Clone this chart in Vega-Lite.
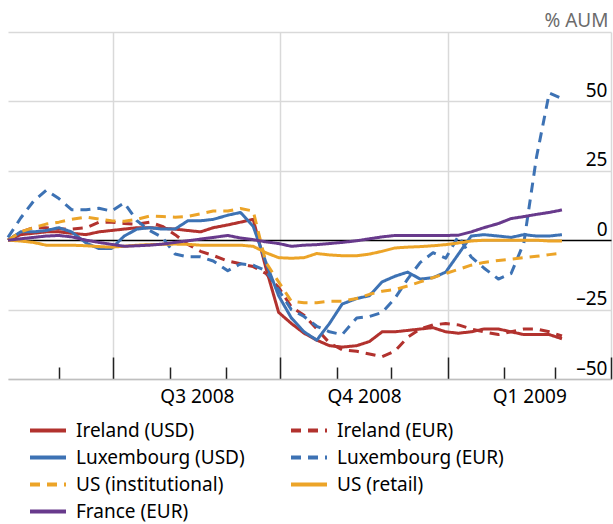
{
  "$schema": "https://vega.github.io/schema/vega-lite/v6.json",
  "width": 603,
  "height": 347,
  "autosize": "none",
  "padding": {"left": 8, "top": 32, "right": 2, "bottom": 145},
  "config": {"view": {"stroke": null}, "font": "Noto Sans"},
  "data": {"values": [
    {"date": "2008-05-04", "Ireland (USD)": 0, "Ireland (EUR)": 0, "Luxembourg (USD)": 0, "Luxembourg (EUR)": 1, "US (institutional)": 0, "US (retail)": 0, "France (EUR)": 0},
    {"date": "2008-05-11", "Ireland (USD)": 2, "Ireland (EUR)": 3, "Luxembourg (USD)": 3, "Luxembourg (EUR)": 8, "US (institutional)": 3, "US (retail)": -0.3, "France (EUR)": 0.5},
    {"date": "2008-05-18", "Ireland (USD)": 2.5, "Ireland (EUR)": 4.5, "Luxembourg (USD)": 3, "Luxembourg (EUR)": 14, "US (institutional)": 4.5, "US (retail)": -0.8, "France (EUR)": 1},
    {"date": "2008-05-25", "Ireland (USD)": 3, "Ireland (EUR)": 4.5, "Luxembourg (USD)": 3.5, "Luxembourg (EUR)": 18, "US (institutional)": 5.8, "US (retail)": -1.8, "France (EUR)": 1.5},
    {"date": "2008-06-01", "Ireland (USD)": 3, "Ireland (EUR)": 4, "Luxembourg (USD)": 4.5, "Luxembourg (EUR)": 15, "US (institutional)": 6.5, "US (retail)": -1.8, "France (EUR)": 1.7},
    {"date": "2008-06-08", "Ireland (USD)": 2.5, "Ireland (EUR)": 4, "Luxembourg (USD)": 3, "Luxembourg (EUR)": 11, "US (institutional)": 7.5, "US (retail)": -1.8, "France (EUR)": 1.2},
    {"date": "2008-06-16", "Ireland (USD)": 2, "Ireland (EUR)": 4.5, "Luxembourg (USD)": -1, "Luxembourg (EUR)": 11, "US (institutional)": 8.3, "US (retail)": -2, "France (EUR)": 0},
    {"date": "2008-06-23", "Ireland (USD)": 3, "Ireland (EUR)": 6.5, "Luxembourg (USD)": -3, "Luxembourg (EUR)": 11.5, "US (institutional)": 7.6, "US (retail)": -2.3, "France (EUR)": -0.8},
    {"date": "2008-06-30", "Ireland (USD)": 3.5, "Ireland (EUR)": 6.5, "Luxembourg (USD)": -3, "Luxembourg (EUR)": 10.5, "US (institutional)": 7, "US (retail)": -2.5, "France (EUR)": -1.5},
    {"date": "2008-07-07", "Ireland (USD)": 4, "Ireland (EUR)": 6, "Luxembourg (USD)": 1.5, "Luxembourg (EUR)": 13.5, "US (institutional)": 6.8, "US (retail)": -2.2, "France (EUR)": -2.2},
    {"date": "2008-07-14", "Ireland (USD)": 4.5, "Ireland (EUR)": 5.8, "Luxembourg (USD)": 4, "Luxembourg (EUR)": 7, "US (institutional)": 7.5, "US (retail)": -1.8, "France (EUR)": -2},
    {"date": "2008-07-21", "Ireland (USD)": 4.5, "Ireland (EUR)": 6.5, "Luxembourg (USD)": 4.5, "Luxembourg (EUR)": 3.5, "US (institutional)": 8.7, "US (retail)": -1.6, "France (EUR)": -1.8},
    {"date": "2008-07-28", "Ireland (USD)": 4.3, "Ireland (EUR)": 5, "Luxembourg (USD)": 4, "Luxembourg (EUR)": 1, "US (institutional)": 8.5, "US (retail)": -1.5, "France (EUR)": -1.4},
    {"date": "2008-08-04", "Ireland (USD)": 4, "Ireland (EUR)": 2, "Luxembourg (USD)": 4, "Luxembourg (EUR)": -5, "US (institutional)": 8.3, "US (retail)": -1.4, "France (EUR)": -0.8},
    {"date": "2008-08-11", "Ireland (USD)": 3.5, "Ireland (EUR)": -1.5, "Luxembourg (USD)": 7, "Luxembourg (EUR)": -6, "US (institutional)": 8.6, "US (retail)": -1.5, "France (EUR)": -0.2},
    {"date": "2008-08-18", "Ireland (USD)": 3, "Ireland (EUR)": -4, "Luxembourg (USD)": 7, "Luxembourg (EUR)": -6, "US (institutional)": 9.5, "US (retail)": -1.8, "France (EUR)": 0.4},
    {"date": "2008-08-25", "Ireland (USD)": 4.5, "Ireland (EUR)": -5.5, "Luxembourg (USD)": 7.5, "Luxembourg (EUR)": -7.5, "US (institutional)": 10.5, "US (retail)": -1.8, "France (EUR)": 1},
    {"date": "2008-09-02", "Ireland (USD)": 5.5, "Ireland (EUR)": -7.5, "Luxembourg (USD)": 9, "Luxembourg (EUR)": -11, "US (institutional)": 10.5, "US (retail)": -1.8, "France (EUR)": 1.7},
    {"date": "2008-09-09", "Ireland (USD)": 6.5, "Ireland (EUR)": -8.5, "Luxembourg (USD)": 10, "Luxembourg (EUR)": -8.5, "US (institutional)": 11.4, "US (retail)": -1.8, "France (EUR)": 0.8},
    {"date": "2008-09-16", "Ireland (USD)": 7.5, "Ireland (EUR)": -9.5, "Luxembourg (USD)": 5, "Luxembourg (EUR)": -9, "US (institutional)": 10.5, "US (retail)": -2.2, "France (EUR)": 0.2},
    {"date": "2008-09-23", "Ireland (USD)": -10, "Ireland (EUR)": -12, "Luxembourg (USD)": -8, "Luxembourg (EUR)": -11, "US (institutional)": -8, "US (retail)": -4.5, "France (EUR)": -0.6},
    {"date": "2008-09-30", "Ireland (USD)": -26, "Ireland (EUR)": -17, "Luxembourg (USD)": -20, "Luxembourg (EUR)": -18, "US (institutional)": -15, "US (retail)": -6.3, "France (EUR)": -1.2},
    {"date": "2008-10-07", "Ireland (USD)": -30, "Ireland (EUR)": -24, "Luxembourg (USD)": -28, "Luxembourg (EUR)": -25, "US (institutional)": -22, "US (retail)": -6.5, "France (EUR)": -2.2},
    {"date": "2008-10-14", "Ireland (USD)": -33.5, "Ireland (EUR)": -27, "Luxembourg (USD)": -33, "Luxembourg (EUR)": -27.5, "US (institutional)": -22.5, "US (retail)": -6.3, "France (EUR)": -1.8},
    {"date": "2008-10-21", "Ireland (USD)": -36, "Ireland (EUR)": -32, "Luxembourg (USD)": -36, "Luxembourg (EUR)": -31, "US (institutional)": -22.5, "US (retail)": -4.8, "France (EUR)": -1.6},
    {"date": "2008-10-28", "Ireland (USD)": -38, "Ireland (EUR)": -37, "Luxembourg (USD)": -30, "Luxembourg (EUR)": -33, "US (institutional)": -22, "US (retail)": -5.3, "France (EUR)": -1.2},
    {"date": "2008-11-04", "Ireland (USD)": -38.5, "Ireland (EUR)": -39.5, "Luxembourg (USD)": -23, "Luxembourg (EUR)": -34, "US (institutional)": -22, "US (retail)": -5.6, "France (EUR)": -0.8},
    {"date": "2008-11-12", "Ireland (USD)": -38, "Ireland (EUR)": -40, "Luxembourg (USD)": -21, "Luxembourg (EUR)": -28, "US (institutional)": -21, "US (retail)": -5.6, "France (EUR)": -0.2},
    {"date": "2008-11-19", "Ireland (USD)": -36.5, "Ireland (EUR)": -41, "Luxembourg (USD)": -20, "Luxembourg (EUR)": -27.5, "US (institutional)": -19.5, "US (retail)": -5, "France (EUR)": 0.5},
    {"date": "2008-11-26", "Ireland (USD)": -33, "Ireland (EUR)": -42, "Luxembourg (USD)": -15, "Luxembourg (EUR)": -26, "US (institutional)": -18.4, "US (retail)": -4, "France (EUR)": 1.2},
    {"date": "2008-12-03", "Ireland (USD)": -33, "Ireland (EUR)": -40, "Luxembourg (USD)": -13, "Luxembourg (EUR)": -21, "US (institutional)": -17.8, "US (retail)": -2.8, "France (EUR)": 1.7},
    {"date": "2008-12-10", "Ireland (USD)": -32.5, "Ireland (EUR)": -35, "Luxembourg (USD)": -11.5, "Luxembourg (EUR)": -14, "US (institutional)": -16.5, "US (retail)": -2.5, "France (EUR)": 1.7},
    {"date": "2008-12-17", "Ireland (USD)": -32, "Ireland (EUR)": -32, "Luxembourg (USD)": -14, "Luxembourg (EUR)": -8, "US (institutional)": -15, "US (retail)": -2.3, "France (EUR)": 1.7},
    {"date": "2008-12-24", "Ireland (USD)": -31.5, "Ireland (EUR)": -30.5, "Luxembourg (USD)": -13.5, "Luxembourg (EUR)": -4.5, "US (institutional)": -13.5, "US (retail)": -2, "France (EUR)": 1.7},
    {"date": "2008-12-31", "Ireland (USD)": -33, "Ireland (EUR)": -30, "Luxembourg (USD)": -11.5, "Luxembourg (EUR)": -6.5, "US (institutional)": -12, "US (retail)": -1.6, "France (EUR)": 1.7},
    {"date": "2009-01-07", "Ireland (USD)": -33.5, "Ireland (EUR)": -30.5, "Luxembourg (USD)": -5, "Luxembourg (EUR)": 1.5, "US (institutional)": -10.5, "US (retail)": -1, "France (EUR)": 1.8},
    {"date": "2009-01-14", "Ireland (USD)": -33, "Ireland (EUR)": -32, "Luxembourg (USD)": 1.5, "Luxembourg (EUR)": -6, "US (institutional)": -9, "US (retail)": -0.3, "France (EUR)": 3},
    {"date": "2009-01-21", "Ireland (USD)": -32, "Ireland (EUR)": -33, "Luxembourg (USD)": 2, "Luxembourg (EUR)": -10, "US (institutional)": -8, "US (retail)": 0, "France (EUR)": 4.5},
    {"date": "2009-01-29", "Ireland (USD)": -32, "Ireland (EUR)": -34, "Luxembourg (USD)": 1.5, "Luxembourg (EUR)": -14, "US (institutional)": -7.3, "US (retail)": 0, "France (EUR)": 6},
    {"date": "2009-02-05", "Ireland (USD)": -33, "Ireland (EUR)": -33, "Luxembourg (USD)": 1, "Luxembourg (EUR)": -12, "US (institutional)": -6.8, "US (retail)": 0, "France (EUR)": 7.8},
    {"date": "2009-02-12", "Ireland (USD)": -34, "Ireland (EUR)": -32, "Luxembourg (USD)": 2, "Luxembourg (EUR)": -1, "US (institutional)": -6.3, "US (retail)": 0, "France (EUR)": 8.5},
    {"date": "2009-02-19", "Ireland (USD)": -34, "Ireland (EUR)": -32, "Luxembourg (USD)": 1.5, "Luxembourg (EUR)": 30, "US (institutional)": -5.8, "US (retail)": 0, "France (EUR)": 9.3},
    {"date": "2009-02-26", "Ireland (USD)": -34, "Ireland (EUR)": -33, "Luxembourg (USD)": 1.5, "Luxembourg (EUR)": 53, "US (institutional)": -5.2, "US (retail)": -0.3, "France (EUR)": 10},
    {"date": "2009-03-05", "Ireland (USD)": -35.5, "Ireland (EUR)": -34.5, "Luxembourg (USD)": 2, "Luxembourg (EUR)": 51, "US (institutional)": -4.7, "US (retail)": -0.3, "France (EUR)": 10.9}
  ]},
  "transform": [
    {"fold": ["Ireland (USD)", "Ireland (EUR)", "Luxembourg (USD)", "Luxembourg (EUR)", "US (institutional)", "US (retail)", "France (EUR)"], "as": ["series", "value"]}
  ],
  "mark": {"type": "line", "strokeWidth": 3, "strokeCap": "butt", "strokeJoin": "round"},
  "encoding": {
    "x": {
      "field": "date", "type": "temporal",
      "scale": {"type": "utc", "domain": [{"year": 2008, "month": 5, "date": 4, "utc": true}, {"year": 2009, "month": 4, "date": 1, "utc": true}]},
      "axis": {
        "title": null,
        "values": [
          {"year": 2008, "month": 6, "date": 1, "utc": true},
          {"year": 2008, "month": 7, "date": 1, "utc": true},
          {"year": 2008, "month": 8, "date": 1, "utc": true},
          {"year": 2008, "month": 8, "date": 16, "utc": true},
          {"year": 2008, "month": 9, "date": 1, "utc": true},
          {"year": 2008, "month": 10, "date": 1, "utc": true},
          {"year": 2008, "month": 11, "date": 1, "utc": true},
          {"year": 2008, "month": 11, "date": 16, "utc": true},
          {"year": 2008, "month": 12, "date": 1, "utc": true},
          {"year": 2009, "month": 1, "date": 1, "utc": true},
          {"year": 2009, "month": 2, "date": 1, "utc": true},
          {"year": 2009, "month": 2, "date": 15, "utc": true},
          {"year": 2009, "month": 3, "date": 1, "utc": true},
          {"year": 2009, "month": 4, "date": 1, "utc": true}
        ],
        "domainColor": "#bfbfbf",
        "domainWidth": 1.5,
        "tickColor": "#222222",
        "tickWidth": 1.5,
        "tickSize": {"condition": [{"test": "utcdate(datum.value) != 1", "value": 0}, {"test": "utcmonth(datum.value) % 3 == 0", "value": -22}], "value": -12},
        "tickOpacity": {"condition": {"test": "utcdate(datum.value) != 1", "value": 0}, "value": 1},
        "grid": true,
        "gridColor": "#d9d9d9",
        "gridWidth": 1.5,
        "gridOpacity": {"condition": {"test": "utcdate(datum.value) == 1 && utcmonth(datum.value) % 3 == 0", "value": 1}, "value": 0},
        "labelExpr": "utcdate(datum.value) == 1 ? '' : utcmonth(datum.value) == 7 ? 'Q3 2008' : utcmonth(datum.value) == 10 ? 'Q4 2008' : 'Q1 2009'",
        "labelFontSize": 19,
        "labelColor": "#000000",
        "labelPadding": 8,
        "labelOverlap": false,
        "labelFlush": false,
        "labelBound": false
      }
    },
    "y": {
      "field": "value", "type": "quantitative",
      "scale": {"domain": [-50, 75], "nice": false, "zero": false},
      "axis": {
        "orient": "right",
        "values": [-50, -25, 0, 25, 50, 75],
        "title": "% AUM",
        "titleAngle": 0,
        "titleAlign": "right",
        "titleBaseline": "middle",
        "titleX": -3,
        "titleY": -12,
        "titleFontSize": 19,
        "titleFontWeight": "normal",
        "titleColor": "#6b6b6b",
        "domain": false,
        "ticks": false,
        "labelAlign": "right",
        "labelPadding": -4,
        "labelBaseline": "alphabetic",
        "labelOffset": -5,
        "labelFontSize": 19,
        "labelColor": "#000000",
        "labelOverlap": false,
        "labelExpr": "datum.value > 50 ? '' : datum.value < 0 ? '–' + abs(datum.value) : datum.label",
        "grid": true,
        "gridColor": {"condition": {"test": "datum.value == 0", "value": "#000000"}, "value": "#d9d9d9"},
        "gridWidth": 1.5
      }
    },
    "color": {
      "field": "series", "type": "nominal", "title": null,
      "scale": {
        "domain": ["Ireland (USD)", "Ireland (EUR)", "Luxembourg (USD)", "Luxembourg (EUR)", "US (institutional)", "US (retail)", "France (EUR)"],
        "range": ["#b2322e", "#b2322e", "#3d72b4", "#3d72b4", "#eca428", "#eca428", "#683a8c"]
      },
      "legend": {
        "orient": "none", "legendX": 20, "legendY": 385, "columns": 2, "direction": "horizontal",
        "symbolType": "stroke", "symbolSize": 1296, "symbolStrokeWidth": 4, "clipHeight": 27,
        "labelFontSize": 19, "labelColor": "#000000", "labelOffset": 8, "labelLimit": 400,
        "rowPadding": 0, "columnPadding": 44
      }
    },
    "strokeDash": {
      "field": "series", "type": "nominal", "title": null,
      "scale": {
        "domain": ["Ireland (USD)", "Ireland (EUR)", "Luxembourg (USD)", "Luxembourg (EUR)", "US (institutional)", "US (retail)", "France (EUR)"],
        "range": [[1, 0], [10, 7], [1, 0], [10, 7], [10, 7], [1, 0], [1, 0]]
      },
      "legend": {
        "orient": "none", "legendX": 20, "legendY": 385, "columns": 2, "direction": "horizontal",
        "symbolType": "stroke", "symbolSize": 1296, "symbolStrokeWidth": 4, "clipHeight": 27,
        "labelFontSize": 19, "labelColor": "#000000", "labelOffset": 8, "labelLimit": 400,
        "rowPadding": 0, "columnPadding": 44
      }
    }
  }
}
